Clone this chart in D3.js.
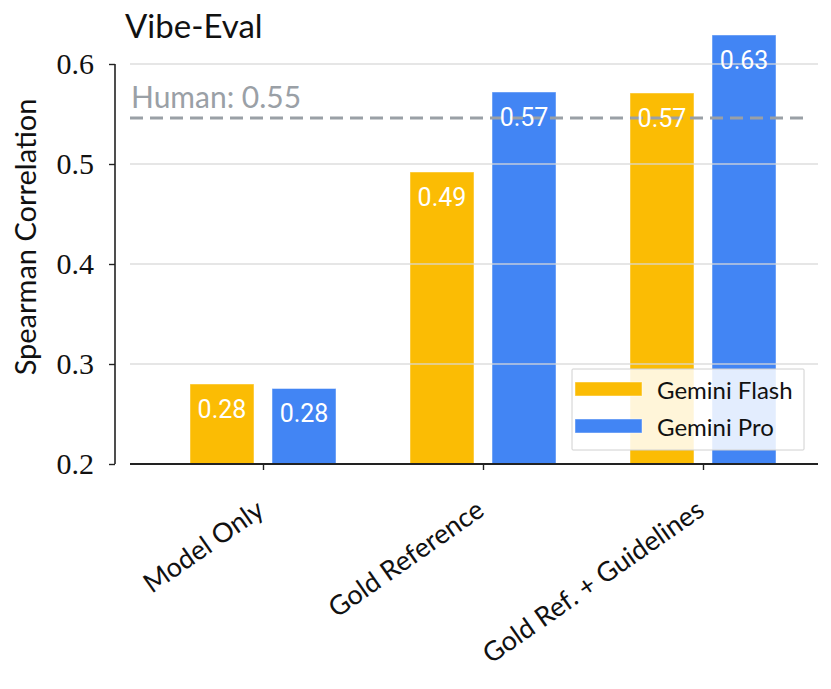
<!DOCTYPE html>
<html><head><meta charset="utf-8">
<script src="https://cdn.jsdelivr.net/npm/d3@7"></script>
<style>body{margin:0;background:#fff;}</style>
</head><body>
<svg id="chart" width="831" height="689"></svg>
<script>
const categories = ["Model Only", "Gold Reference", "Gold Ref. + Guidelines"];
const seriesNames = ["Gemini Flash", "Gemini Pro"];
const flashValues = [0.280, 0.492, 0.571];
const proValues = [0.2755, 0.572, 0.629];
const seriesColors = ["#FBBC04", "#4285F4"];
const yTicks = [0.2, 0.3, 0.4, 0.5, 0.6];
const humanScore = 0.546;
const humanLabel = "Human: 0.55";
const title = "Vibe-Eval";
const yTitle = "Spearman Correlation";

const sansFont = "Lato, 'DejaVu Sans', sans-serif";
const serifFont = "'Liberation Serif', 'DejaVu Serif', serif";

const svg = d3.select("#chart");
const plotLeft = 130, plotRight = 818, plotBottom = 464;

const y = d3.scaleLinear().domain([0.2, 0.6]).range([464, 64]);
const x0 = d3.scalePoint().domain(categories).range([263, 703]);
const x1 = d3.scaleBand().domain(seriesNames).range([-73, 73]).paddingInner(0.22);
const color = d3.scaleOrdinal().domain(seriesNames).range(seriesColors);

const data = [];
categories.forEach((c, i) => {
  data.push({cat: c, series: seriesNames[0], value: flashValues[i]});
  data.push({cat: c, series: seriesNames[1], value: proValues[i]});
});

// bars
svg.append("g").selectAll("rect").data(data).join("rect")
  .attr("x", d => x0(d.cat) + x1(d.series))
  .attr("y", d => y(d.value))
  .attr("width", x1.bandwidth())
  .attr("height", d => y(0.2) - y(d.value))
  .attr("fill", d => color(d.series))
  .attr("stroke", "rgba(255,255,255,0.45)")
  .attr("stroke-width", 1);

// gridlines (drawn over bars)
svg.append("g").selectAll("line").data(yTicks.filter(t => t > 0.2)).join("line")
  .attr("x1", plotLeft).attr("x2", plotRight)
  .attr("y1", d => y(d)).attr("y2", d => y(d))
  .attr("stroke", "rgba(215,215,215,0.85)").attr("stroke-width", 1.5);

// human line
svg.append("line")
  .attr("x1", plotLeft).attr("x2", 803)
  .attr("y1", y(humanScore)).attr("y2", y(humanScore))
  .attr("stroke", "#9AA0A6").attr("stroke-width", 3)
  .attr("stroke-dasharray", "13,7");
svg.append("text")
  .attr("x", 131).attr("y", y(humanScore) - 10)
  .attr("font-family", sansFont).attr("font-size", 30)
  .attr("fill", "#9AA0A6").text(humanLabel);

// bar value labels
svg.append("g").selectAll("text").data(data).join("text")
  .attr("x", d => x0(d.cat) + x1(d.series) + x1.bandwidth() / 2)
  .attr("y", d => y(d.value) + 25)
  .attr("text-anchor", "middle").attr("dominant-baseline", "central")
  .attr("font-family", "Roboto, sans-serif").attr("font-size", 25)
  .attr("fill", "#fff").text(d => d.value.toFixed(2));

// left axis (offset, trimmed)
const yAxis = d3.axisLeft(y).tickValues(yTicks).tickSize(6).tickPadding(15)
  .tickFormat(d3.format(".1f"));
const gy = svg.append("g").attr("transform", "translate(115,0)").call(yAxis);
gy.select(".domain").attr("stroke", "#222").attr("stroke-width", 1.6).attr("d", `M0,${y(0.6)}V${y(0.2)}`);
gy.selectAll(".tick line").attr("stroke", "#222").attr("stroke-width", 1.4);
gy.selectAll(".tick text").attr("font-family", serifFont).attr("font-size", 30).attr("fill", "#111");

// bottom axis
const xAxis = d3.axisBottom(x0).tickSize(6).tickFormat("");
const gx = svg.append("g").attr("transform", `translate(0,${plotBottom})`).call(xAxis);
gx.select(".domain").attr("stroke", "#222").attr("stroke-width", 1.8).attr("d", `M${plotLeft},0H${plotRight}`);
gx.selectAll(".tick line").attr("stroke", "#222").attr("stroke-width", 1.4);

// rotated x labels
svg.append("g").selectAll("text").data(categories).join("text")
  .attr("transform", d => `translate(${x0(d) + 3},514) rotate(-35)`)
  .attr("text-anchor", "end")
  .attr("font-family", sansFont).attr("font-size", 27).attr("fill", "#111")
  .text(d => d);

// title
svg.append("text").attr("x", 125).attr("y", 38)
  .attr("font-family", sansFont).attr("font-size", 33).attr("fill", "#111").text(title);

// y title
svg.append("text").attr("transform", "translate(36,237) rotate(-90)")
  .attr("text-anchor", "middle")
  .attr("font-family", sansFont).attr("font-size", 29).attr("fill", "#111").text(yTitle);

// legend
const lg = svg.append("g").attr("transform", "translate(572,369)");
lg.append("rect").attr("width", 232).attr("height", 81).attr("rx", 1)
  .attr("fill", "rgba(255,255,255,0.85)").attr("stroke", "#d0d0d0").attr("stroke-width", 1);
seriesNames.forEach((s, i) => {
  lg.append("rect").attr("x", 3).attr("y", 13 + i * 37).attr("width", 67).attr("height", 14)
    .attr("fill", color(s)).attr("stroke", "rgba(255,255,255,0.45)");
  lg.append("text").attr("x", 85).attr("y", 20 + i * 37).attr("dominant-baseline", "central")
    .attr("font-family", sansFont).attr("font-size", 24).attr("fill", "#111").text(s);
});
</script>
</body></html>
